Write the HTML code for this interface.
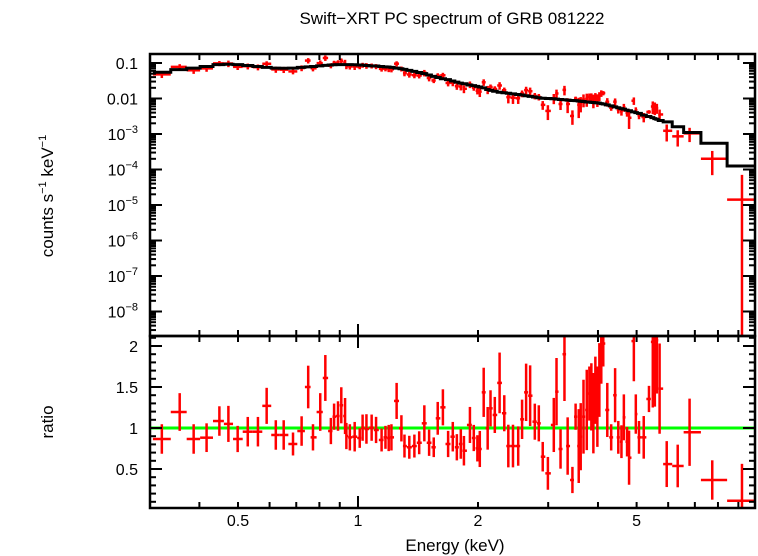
<!DOCTYPE html>
<html><head><meta charset="utf-8"><style>
body{margin:0;background:#fff;}
svg{display:block;font-family:"Liberation Sans",sans-serif;}
</style></head><body>
<svg id="c" width="758" height="556">
<text x="452" y="24" font-size="17" text-anchor="middle">Swift−XRT PC spectrum of GRB 081222</text>
<text transform="translate(53,196) rotate(-90)" font-size="17" text-anchor="middle">counts s<tspan font-size="11" dy="-7">−1</tspan><tspan dy="7"> keV</tspan><tspan font-size="11" dy="-7">−1</tspan></text>
<text transform="translate(53,422) rotate(-90)" font-size="17" text-anchor="middle">ratio</text>
<text x="455" y="551" font-size="17" text-anchor="middle">Energy (keV)</text>
<g id="g"></g>
</svg>
<script>
const energies=[0.322,0.357,0.387,0.417,0.449,0.473,0.499,0.529,0.561,0.590,
0.622,0.651,0.687,0.722,0.750,0.771,0.804,0.828,0.855,0.871,
0.891,0.908,0.928,0.935,0.954,0.981,1.010,1.027,1.050,1.082,
1.110,1.146,1.172,1.194,1.213,1.250,1.285,1.308,1.345,1.385,
1.424,1.467,1.508,1.549,1.585,1.633,1.683,1.729,1.770,1.811,
1.844,1.909,1.952,1.993,2.021,2.067,2.115,2.150,2.204,2.266,
2.328,2.383,2.448,2.523,2.580,2.641,2.703,2.777,2.842,2.907,
2.995,3.099,3.148,3.222,3.296,3.357,3.451,3.515,3.579,3.620,
3.679,3.749,3.806,3.850,3.895,3.940,3.986,4.032,4.077,4.124,
4.221,4.317,4.416,4.498,4.581,4.645,4.732,4.787,4.921,4.977,
5.07,5.21,5.37,5.49,5.555,5.62,5.71,5.95,6.34,6.79,
7.74,9.19];
const ratios=[0.866,1.195,0.866,0.882,1.085,1.05,0.866,0.955,0.955,1.27,
0.915,0.915,0.805,0.963,1.50,0.886,1.195,1.61,0.963,1.138,
1.146,1.277,1.146,0.902,0.886,0.894,0.878,1.004,0.988,1.004,
0.976,0.854,0.886,0.878,0.886,1.33,0.996,0.78,0.765,0.78,
0.82,1.057,0.82,0.765,1.118,1.252,0.805,0.894,0.765,0.805,
0.723,1.037,0.878,0.752,0.744,1.435,0.996,1.24,1.159,1.55,
1.18,0.78,0.78,0.78,1.106,1.435,1.394,1.077,1.057,0.65,
0.447,1.037,1.443,0.744,1.90,0.78,0.366,1.138,0.78,0.894,
1.138,1.22,1.42,1.38,1.18,1.46,1.26,1.585,1.95,2.03,
1.22,0.886,1.40,0.886,0.833,1.13,0.833,0.638,2.06,1.17,
0.886,0.886,1.354,2.05,2.06,2.07,1.48,0.56,0.537,0.948,
0.366,0.113];
const ratioErrors=[0.18,0.23,0.18,0.175,0.18,0.22,0.16,0.18,0.18,0.22,
0.18,0.18,0.14,0.18,0.26,0.16,0.23,0.28,0.16,0.16,
0.18,0.22,0.22,0.16,0.16,0.18,0.12,0.16,0.18,0.16,
0.16,0.14,0.14,0.16,0.16,0.22,0.16,0.14,0.14,0.14,
0.14,0.22,0.16,0.12,0.2,0.22,0.16,0.18,0.16,0.18,
0.18,0.22,0.16,0.16,0.22,0.3,0.26,0.22,0.22,0.37,
0.22,0.26,0.26,0.24,0.24,0.35,0.37,0.22,0.22,0.18,
0.2,0.33,0.41,0.24,0.57,0.35,0.16,0.16,0.45,0.41,
0.45,0.49,0.33,0.41,0.49,0.41,0.49,0.45,0.41,0.28,
0.33,0.16,0.33,0.2,0.2,0.28,0.18,0.33,0.49,0.24,
0.2,0.26,0.16,0.8,0.8,0.65,0.55,0.28,0.26,0.41,
0.24,0.45];
const modelCounts=[.055,.065,.072,.080,.09,.092,.09,.085,.08,.075,
.072,.071,.072,.075,.078,.080,.083,.086,.088,.089,
.09,.09,.09,.09,.09,.089,.088,.087,.085,.083,
.082,.080,.078,.077,.075,.072,.069,.066,.062,.058,
.054,.050,.046,.042,.039,.036,.034,.031,.029,.027,
.026,.024,.023,.022,.021,.020,.018,.017,.016,.015,
.0145,.014,.0135,.013,.0125,.012,.0115,.011,.0105,.0102,
.010,.0098,.0096,.0094,.0092,.009,.0088,.0087,.0085,.0084,
.0082,.008,.0079,.0078,.0077,.0076,.0075,.0074,.0072,.007,
.0066,.0062,.0058,.0055,.0052,.005,.0047,.0045,.0042,.004,
.0038,.0034,.0031,.0029,.0027,.0026,.0024,.0022,.0016,.0011,
.00055,.000125];
const xTickLabels=[0.5,1,2,5];
const yTopTickExp=[-1,-2,-3,-4,-5,-6,-7,-8];
const ratioTickLabels=[0.5,1,1.5,2];

const L=150,R=755,T=54,M=336,B=508;
const NS="http://www.w3.org/2000/svg";
const g=document.getElementById('g');
const xS=e=>358+398.6*Math.log10(e);
const yTop=v=>63-35.5*(Math.log10(v)+1);
const yRat=r=>428-82*(r-1);
const clip=(y,a,b)=>Math.max(a,Math.min(b,y));
function ln(x1,y1,x2,y2,col,w,name){
  const l=document.createElementNS(NS,'line');
  l.setAttribute('x1',x1);l.setAttribute('y1',y1);l.setAttribute('x2',x2);l.setAttribute('y2',y2);
  l.setAttribute('stroke',col);l.setAttribute('stroke-width',w);
  
  
  g.appendChild(l);return l;
}
function tx(x,y,s,anchor,name){
  const t=document.createElementNS(NS,'text');
  t.setAttribute('x',x);t.setAttribute('y',y);t.setAttribute('font-size','16');t.setAttribute('text-anchor',anchor);
  t.innerHTML=s;
  
  
  g.appendChild(t);return t;
}
const n=energies.length;const lo=[],hi=[];
for(let i=0;i<n;i++){
  lo.push(i>0?Math.sqrt(energies[i]*energies[i-1]):energies[0]*Math.sqrt(energies[0]/energies[1]));
  hi.push(i<n-1?Math.sqrt(energies[i]*energies[i+1]):energies[i]*Math.sqrt(energies[i]/energies[i-1]));
}
ln(L,yRat(1),R,yRat(1),'#00ff00',3,'unity-line');
for(let i=0;i<n;i++){
  const x0=clip(xS(lo[i]),L,R),x1=clip(xS(hi[i]),L,R),xc=xS(energies[i]);
  const v=modelCounts[i]*ratios[i],ev=modelCounts[i]*ratioErrors[i];
  const yc=yTop(v);
  ln(x0,yc,x1,yc,'#ff0000',2.5,'spectrum-point-x');
  const yu=clip(yTop(v+ev),T,M),yl=(v-ev)>0?clip(yTop(v-ev),T,M):M;
  ln(xc,yu,xc,yl,'#ff0000',2.5,'spectrum-point-err');
  const rc=yRat(ratios[i]);
  if(rc>=M&&rc<=B) ln(x0,rc,x1,rc,'#ff0000',2.5,'ratio-point-x');
  ln(xc,clip(yRat(ratios[i]+ratioErrors[i]),M,B),xc,clip(yRat(ratios[i]-ratioErrors[i]),M,B),'#ff0000',2.5,'ratio-point-err');
}
let d='';
for(let i=0;i<n;i++){
  const x0=clip(xS(lo[i]),L,R),x1=clip(xS(hi[i]),L,R),y=yTop(modelCounts[i]);
  d+=(i===0?'M':'L')+x0+','+y+'L'+x1+','+y;
}
const p=document.createElementNS(NS,'path');
p.setAttribute('d',d);p.setAttribute('fill','none');p.setAttribute('stroke','#000');p.setAttribute('stroke-width','3');


g.appendChild(p);
[[T,M],[M,B]].forEach(([a,b],k)=>{
  const r=document.createElementNS(NS,'rect');
  r.setAttribute('x',L);r.setAttribute('y',a);r.setAttribute('width',R-L);r.setAttribute('height',b-a);
  r.setAttribute('fill','none');r.setAttribute('stroke','#000');r.setAttribute('stroke-width','2.5');
  
  
  g.appendChild(r);
});
const xt=[0.4,0.5,0.6,0.7,0.8,0.9,1,2,3,4,5,6,7,8,9];
xt.forEach(e=>{
  const x=xS(e),big=(e===1);const len=big?12:6;
  [[T,1],[M,-1],[M,1],[B,-1]].forEach(([y,s])=>ln(x,y,x,y+s*len,'#000',2,'x-tick'));
});
xTickLabels.forEach(e=>tx(xS(e),526,String(e),'middle','x-tick-label'));
for(let ex=-9;ex<=-1;ex++){
  for(let m=1;m<10;m++){
    const v=m*Math.pow(10,ex),y=yTop(v);
    if(y<T||y>M)continue;
    const len=m===1?12:6;
    ln(L,y,L+len,y,'#000',2,'y-tick');ln(R,y,R-len,y,'#000',2,'y-tick');
  }
}
yTopTickExp.forEach(ex=>{
  const y=yTop(Math.pow(10,ex))+6;
  const s=ex===-1?'0.1':ex===-2?'0.01':'10<tspan font-size="11" dy="-7">−'+(-ex)+'</tspan>';
  tx(138,y,s,'end','y-tick-label');
});
for(let k=1;k<=21;k++){
  const r=k/10,y=yRat(r);if(y<M||y>B)continue;
  const len=(k%5===0)?12:6;
  ln(L,y,L+len,y,'#000',2,'ratio-tick');ln(R,y,R-len,y,'#000',2,'ratio-tick');
}
ratioTickLabels.forEach(r=>tx(138,yRat(r)+6,String(r),'end','ratio-tick-label'));
</script>
</body></html>
